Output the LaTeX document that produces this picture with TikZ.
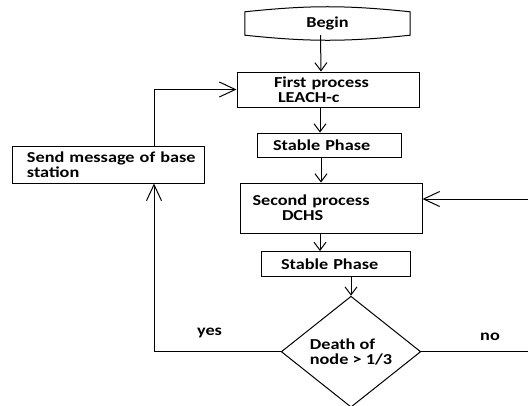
\documentclass[tikz,border=0pt]{standalone}
\usepackage{fontspec}
\setmainfont{Carlito}[FakeStretch=1.2]
\usetikzlibrary{shapes,arrows.meta,positioning,calc}

\begin{document}
\begin{tikzpicture}[x=1pt, y=-1pt, font=\bfseries\fontsize{15.2}{15}\selectfont,
    box/.style={draw, line width=1pt, inner xsep=0pt, inner ysep=0pt, align=left},
    arr/.style={-{Straight Barb[length=8pt, width=12pt]}, line width=1pt},
    looparr/.style={-{Straight Barb[length=16pt, width=15pt]}, line width=1pt}]
    \useasboundingbox (0,0) rectangle (528,405);

    % Begin
    \node[inner sep=0pt, minimum width=165, minimum height=23] (begin) at (327.5,23.5) {Begin};
    \draw[line width=1pt] (begin.north west) to[bend left=6] (begin.north east) -- (begin.south east)
        to[bend left=6] (begin.south west) -- cycle;

    % First process
    \node[box, text width=182, minimum height=35] (first) at (328,89.5) {\hspace*{37pt}First process\\\hspace*{41pt}LEACH-c};
    \node[box, text width=144, minimum height=24.5] (stableA) at (329,145.3) {\hspace*{16pt}Stable Phase};
    \node[box, text width=192, minimum height=37] (send) at (108,164.5) {\hspace*{15pt}Send message of base\\\hspace*{15pt}station};

    % Second process
    \node[box, text width=182, minimum height=50] (second) at (331,208) {\hspace*{12.5pt}Second process\\\hspace*{42pt}DCHS};
    \node[box, text width=149, minimum height=24.5] (stableB) at (335.5,263.8) {\hspace*{20pt}Stable Phase};
    \node[draw, diamond, line width=1pt, minimum width=139.5, minimum height=111, inner sep=0pt, align=left] (death) at (351,351.7) {Death of\\node > 1/3};

    \node (yes) at (209.5,333) {yes};
    \node (no) at (490,337) {no};
    \coordinate (rightA) at (528,351.7);
    \coordinate (rightB) at (528,199);

    % arrows
    \draw[arr] ([xshift=-7pt]begin.south) -- ([xshift=-7pt]first.north);
    \draw[arr] ([xshift=-8pt]first.south) -- ([xshift=-9pt]stableA.north);
    \draw[arr] ([xshift=-8pt]stableA.south) -- ([xshift=-10pt]second.north);
    \draw[arr] ([xshift=-11pt]second.south) -- ([xshift=-15.5pt]stableB.north);
    \draw[arr] ([xshift=15.5pt]stableB.south) -- (death.north);
    \draw[looparr] (death.west) -| ([xshift=46pt]send.south);
    \draw[looparr] ([xshift=46pt]send.north) |- (first.west);
    \draw[line width=1pt] (death.east) -- (rightA);
    \draw[looparr] (rightB) -- (second.east |- rightB);
\end{tikzpicture}
\end{document}
